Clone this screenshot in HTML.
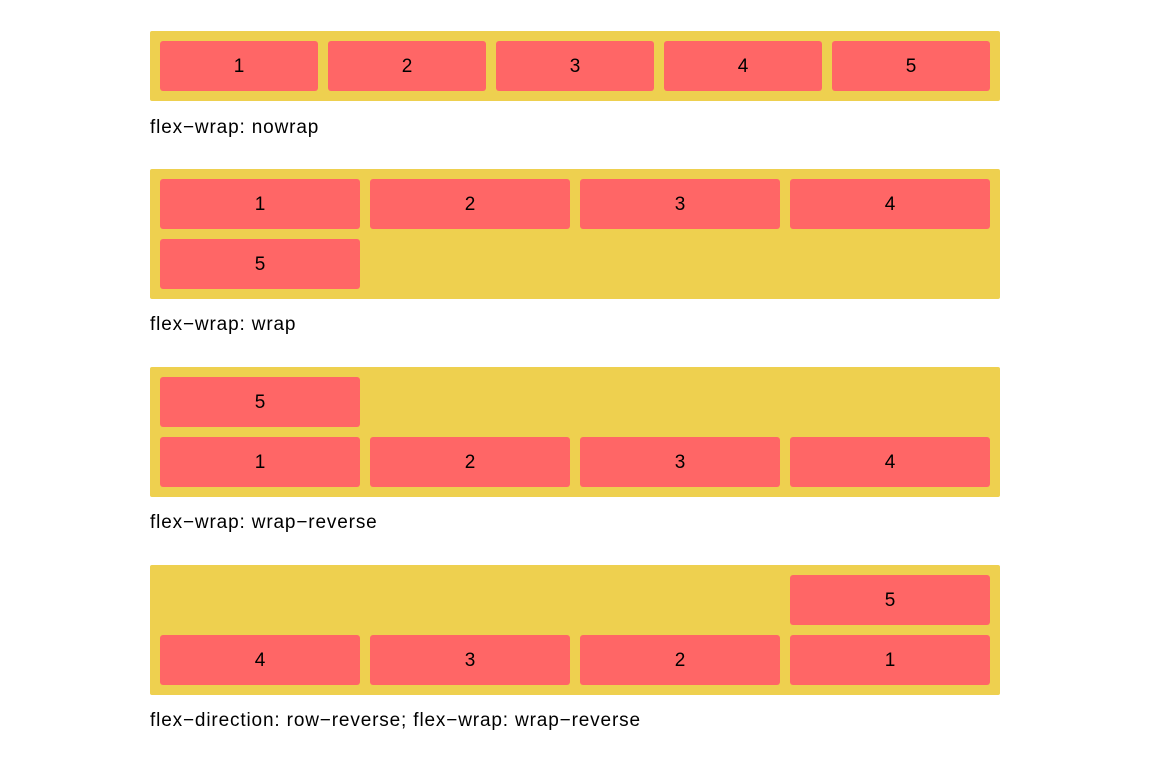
<!DOCTYPE html>
<html><head><meta charset="utf-8"><style>
html,body{margin:0;padding:0;background:#fff;width:1150px;height:764px;overflow:hidden}
.c{position:absolute;left:150px;width:850px;background:#eed04f;border-radius:2px}
.i{position:absolute;height:50px;background:#ff6666;border-radius:3px;font:19px "Liberation Sans",sans-serif;color:#000;display:flex;align-items:center;justify-content:center;padding-top:2px;box-sizing:border-box}
.l{position:absolute;left:150px;font:19px "Liberation Sans",sans-serif;letter-spacing:0.85px;color:#000;line-height:20px}
</style></head><body>
<div class="c" style="top:31px;height:70px"></div>
<div class="i" style="left:160px;top:41px;width:158px">1</div>
<div class="i" style="left:328px;top:41px;width:158px">2</div>
<div class="i" style="left:496px;top:41px;width:158px">3</div>
<div class="i" style="left:664px;top:41px;width:158px">4</div>
<div class="i" style="left:832px;top:41px;width:158px">5</div>
<div class="l" style="top:118px">flex−wrap: nowrap</div>

<div class="c" style="top:169px;height:130px"></div>
<div class="i" style="left:160px;top:179px;width:200px">1</div>
<div class="i" style="left:370px;top:179px;width:200px">2</div>
<div class="i" style="left:580px;top:179px;width:200px">3</div>
<div class="i" style="left:790px;top:179px;width:200px">4</div>
<div class="i" style="left:160px;top:239px;width:200px">5</div>
<div class="l" style="top:315px">flex−wrap: wrap</div>

<div class="c" style="top:367px;height:130px"></div>
<div class="i" style="left:160px;top:377px;width:200px">5</div>
<div class="i" style="left:160px;top:437px;width:200px">1</div>
<div class="i" style="left:370px;top:437px;width:200px">2</div>
<div class="i" style="left:580px;top:437px;width:200px">3</div>
<div class="i" style="left:790px;top:437px;width:200px">4</div>
<div class="l" style="top:513px">flex−wrap: wrap−reverse</div>

<div class="c" style="top:565px;height:130px"></div>
<div class="i" style="left:790px;top:575px;width:200px">5</div>
<div class="i" style="left:160px;top:635px;width:200px">4</div>
<div class="i" style="left:370px;top:635px;width:200px">3</div>
<div class="i" style="left:580px;top:635px;width:200px">2</div>
<div class="i" style="left:790px;top:635px;width:200px">1</div>
<div class="l" style="top:711px">flex−direction: row−reverse; flex−wrap: wrap−reverse</div>
</body></html>
